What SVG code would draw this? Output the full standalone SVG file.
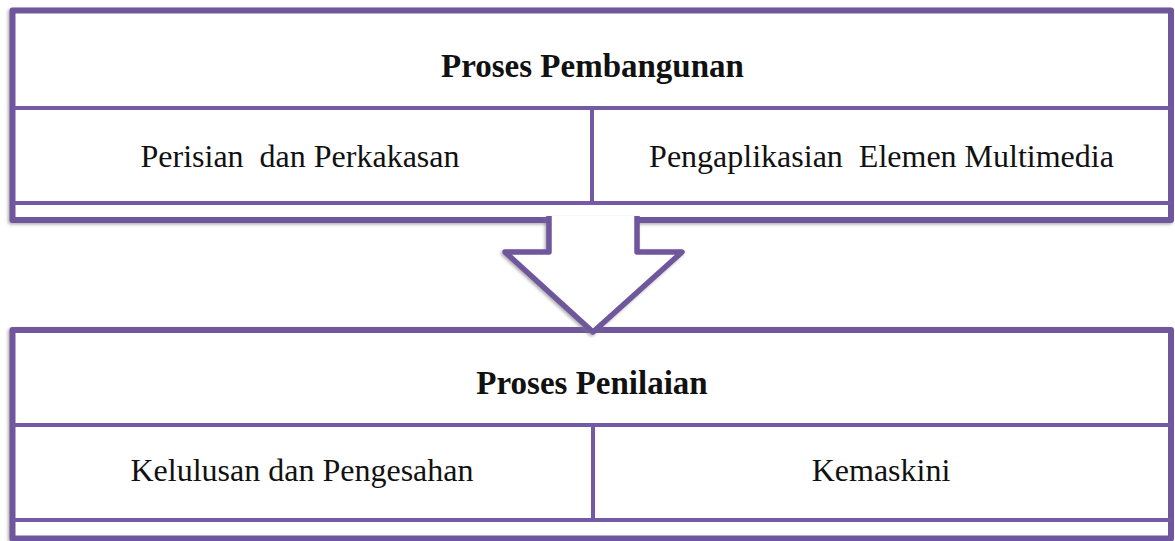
<svg xmlns="http://www.w3.org/2000/svg" width="1175" height="541" viewBox="0 0 1175 541">
<style>
.frame{fill:#ffffff;stroke:#6f579d;stroke-width:6;stroke-linejoin:round}
.sep{stroke:#7459a4;stroke-width:4;fill:none}
.arrow{fill:#ffffff;stroke:#6f579d;stroke-width:5.5;stroke-linejoin:round}
.title{font-family:"Liberation Serif","Times New Roman",serif;font-weight:bold;font-size:33px;fill:#111111;text-anchor:middle}
.label{font-family:"Liberation Serif","Times New Roman",serif;font-size:32px;fill:#111111;text-anchor:middle}
</style>
<defs>
<filter id="sh" x="-5%" y="-5%" width="110%" height="115%">
<feDropShadow dx="-1.5" dy="1.5" stdDeviation="1.5" flood-color="#777777" flood-opacity="0.6"/>
</filter>
</defs>
<rect width="1175" height="541" fill="#ffffff"/>
<g id="node-pembangunan">
<rect class="frame" x="12.5" y="10.5" width="1158.5" height="209.5" filter="url(#sh)"/>
<line class="sep" x1="12" y1="108" x2="1171" y2="108"/>
<line class="sep" x1="12" y1="203" x2="1171" y2="203"/>
<line class="sep" x1="592" y1="106" x2="592" y2="203"/>
<text class="title" x="592.5" y="77">Proses Pembangunan</text>
<text class="label" x="300" y="167" xml:space="preserve">Perisian  dan Perkakasan</text>
<text class="label" x="881.5" y="167" xml:space="preserve">Pengaplikasian  Elemen Multimedia</text>
</g>
<g id="node-penilaian">
<rect class="frame" x="12.5" y="330" width="1158.5" height="208.5" filter="url(#sh)"/>
<line class="sep" x1="12" y1="425" x2="1171" y2="425"/>
<line class="sep" x1="12" y1="520" x2="1171" y2="520"/>
<line class="sep" x1="593" y1="423" x2="593" y2="520"/>
<text class="title" x="592" y="394">Proses Penilaian</text>
<text class="label" x="302" y="481">Kelulusan dan Pengesahan</text>
<text class="label" x="881" y="481">Kemaskini</text>
</g>
<g id="connectors">
<path class="arrow" d="M549,216 V252 H505 L593,332 L682,252 H637 V216" filter="url(#sh)"/>
</g>
</svg>
